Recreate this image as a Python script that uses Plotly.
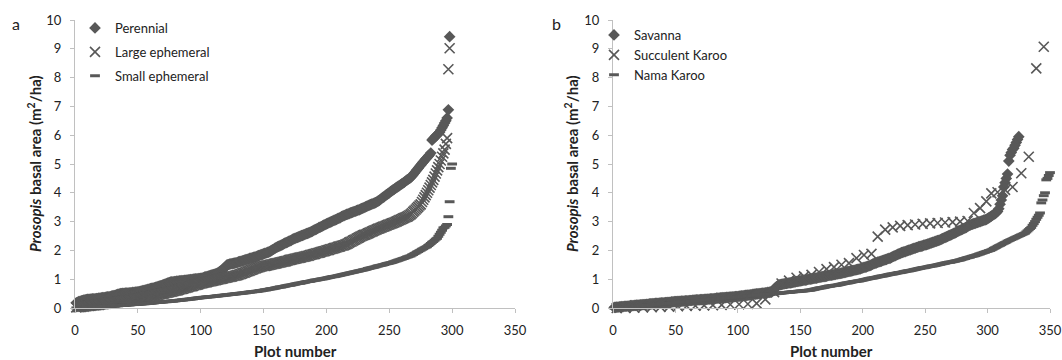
import plotly.graph_objects as go

# ---------------- Panel a: drainage type ----------------
perennial = [
    0.18,0.20,0.22,0.23,0.25,0.26,0.27,0.28,0.29,0.30,
    0.30,0.31,0.31,0.32,0.32,0.32,0.33,0.33,0.34,0.34,
    0.35,0.36,0.36,0.37,0.38,0.39,0.39,0.40,0.41,0.42,
    0.43,0.44,0.46,0.47,0.48,0.50,0.50,0.51,0.51,0.52,
    0.52,0.52,0.53,0.53,0.53,0.54,0.54,0.55,0.55,0.56,
    0.57,0.58,0.59,0.60,0.61,0.62,0.63,0.65,0.66,0.67,
    0.68,0.69,0.70,0.72,0.73,0.74,0.76,0.77,0.78,0.80,
    0.82,0.83,0.85,0.87,0.88,0.90,0.91,0.91,0.92,0.92,
    0.93,0.93,0.94,0.94,0.95,0.95,0.96,0.96,0.97,0.98,
    0.98,0.99,0.99,1.00,1.00,1.01,1.01,1.02,1.02,1.03,
    1.04,1.05,1.07,1.08,1.09,1.11,1.12,1.13,1.15,1.16,
    1.17,1.19,1.20,1.23,1.26,1.29,1.32,1.35,1.40,1.45,
    1.50,1.51,1.52,1.53,1.54,1.55,1.56,1.57,1.58,1.60,
    1.61,1.62,1.64,1.65,1.66,1.68,1.69,1.70,1.72,1.73,
    1.74,1.76,1.77,1.78,1.80,1.82,1.83,1.85,1.86,1.88,
    1.90,1.91,1.93,1.94,1.96,1.99,2.02,2.04,2.07,2.10,
    2.12,2.14,2.16,2.18,2.20,2.23,2.25,2.27,2.29,2.31,
    2.33,2.35,2.38,2.40,2.42,2.44,2.45,2.47,2.49,2.51,
    2.52,2.54,2.56,2.58,2.59,2.61,2.63,2.65,2.67,2.70,
    2.72,2.74,2.76,2.79,2.81,2.83,2.85,2.88,2.90,2.92,
    2.94,2.96,2.98,3.00,3.02,3.04,3.06,3.08,3.10,3.12,
    3.14,3.17,3.19,3.21,3.23,3.25,3.26,3.28,3.30,3.31,
    3.33,3.35,3.36,3.38,3.40,3.41,3.43,3.45,3.47,3.49,
    3.51,3.53,3.55,3.57,3.59,3.61,3.62,3.64,3.66,3.68,
    3.71,3.74,3.77,3.81,3.84,3.87,3.91,3.94,3.97,4.00,
    4.04,4.07,4.10,4.13,4.16,4.19,4.22,4.25,4.28,4.31,
    4.34,4.37,4.41,4.44,4.47,4.50,4.53,4.58,4.63,4.69,
    4.74,4.80,4.85,4.91,4.96,5.02,5.07,5.12,5.17,5.22,
    5.27,5.32,5.38,5.83,5.88,5.92,5.97,6.01,6.06,6.10,
    6.18,6.26,6.34,6.42,6.50,6.60,6.88,9.42,
]

large_ephemeral = [
    0.02,0.03,0.03,0.04,0.04,0.05,0.05,0.06,0.06,0.07,
    0.07,0.08,0.08,0.09,0.09,0.10,0.10,0.11,0.11,0.12,
    0.13,0.13,0.14,0.15,0.15,0.16,0.17,0.17,0.18,0.19,
    0.19,0.20,0.21,0.21,0.22,0.23,0.23,0.24,0.24,0.25,
    0.26,0.27,0.27,0.28,0.29,0.30,0.30,0.31,0.32,0.33,
    0.33,0.34,0.35,0.36,0.36,0.37,0.38,0.39,0.39,0.40,
    0.41,0.42,0.43,0.44,0.45,0.46,0.47,0.48,0.49,0.50,
    0.51,0.52,0.53,0.54,0.55,0.56,0.57,0.58,0.59,0.60,
    0.61,0.62,0.64,0.65,0.66,0.67,0.69,0.70,0.71,0.72,
    0.74,0.75,0.76,0.77,0.79,0.80,0.81,0.82,0.84,0.85,
    0.86,0.87,0.88,0.89,0.90,0.91,0.92,0.93,0.94,0.95,
    0.96,0.97,0.98,0.99,1.00,1.01,1.02,1.03,1.04,1.05,
    1.06,1.07,1.08,1.09,1.10,1.11,1.12,1.13,1.14,1.15,
    1.17,1.18,1.20,1.22,1.23,1.25,1.27,1.28,1.30,1.32,
    1.33,1.35,1.37,1.38,1.40,1.41,1.43,1.44,1.45,1.46,
    1.46,1.47,1.48,1.49,1.50,1.51,1.52,1.53,1.54,1.55,
    1.56,1.57,1.58,1.59,1.60,1.61,1.62,1.63,1.64,1.66,
    1.67,1.68,1.69,1.70,1.71,1.72,1.73,1.74,1.75,1.76,
    1.77,1.78,1.79,1.80,1.81,1.82,1.84,1.85,1.86,1.87,
    1.88,1.90,1.91,1.92,1.93,1.95,1.96,1.97,1.98,2.00,
    2.01,2.02,2.04,2.05,2.06,2.08,2.09,2.10,2.12,2.13,
    2.14,2.16,2.17,2.18,2.20,2.22,2.24,2.27,2.29,2.31,
    2.34,2.36,2.38,2.41,2.43,2.45,2.48,2.50,2.52,2.54,
    2.55,2.57,2.59,2.61,2.63,2.65,2.67,2.69,2.71,2.73,
    2.75,2.76,2.78,2.80,2.82,2.83,2.85,2.87,2.89,2.90,
    2.92,2.94,2.95,2.97,2.99,3.01,3.03,3.05,3.07,3.09,
    3.11,3.13,3.15,3.17,3.19,3.22,3.25,3.29,3.34,3.38,
    3.42,3.47,3.51,3.56,3.60,3.68,3.76,3.84,3.92,4.00,
    4.09,4.18,4.27,4.36,4.45,4.56,4.67,4.78,4.89,5.00,
    5.12,5.25,5.37,5.50,5.70,5.90,8.29,9.02,
]

small_ephemeral = [
    0.00,0.00,0.01,0.01,0.01,0.01,0.02,0.02,0.02,0.02,
    0.03,0.03,0.03,0.03,0.04,0.04,0.04,0.04,0.05,0.05,
    0.05,0.05,0.06,0.06,0.06,0.06,0.07,0.07,0.07,0.07,
    0.08,0.08,0.08,0.08,0.09,0.09,0.09,0.09,0.10,0.10,
    0.10,0.11,0.11,0.11,0.12,0.12,0.12,0.13,0.13,0.13,
    0.14,0.14,0.14,0.15,0.15,0.15,0.16,0.16,0.16,0.17,
    0.17,0.18,0.18,0.19,0.19,0.20,0.20,0.20,0.21,0.21,
    0.22,0.22,0.22,0.23,0.23,0.24,0.24,0.24,0.25,0.25,
    0.26,0.26,0.27,0.27,0.28,0.28,0.29,0.29,0.30,0.30,
    0.31,0.31,0.32,0.32,0.33,0.34,0.34,0.35,0.35,0.36,
    0.36,0.37,0.37,0.38,0.38,0.39,0.39,0.39,0.40,0.40,
    0.41,0.41,0.42,0.42,0.43,0.43,0.44,0.44,0.45,0.45,
    0.46,0.46,0.47,0.47,0.48,0.48,0.49,0.49,0.50,0.50,
    0.51,0.51,0.52,0.52,0.53,0.53,0.54,0.55,0.55,0.56,
    0.56,0.57,0.57,0.58,0.58,0.59,0.60,0.60,0.61,0.62,
    0.63,0.63,0.64,0.65,0.66,0.67,0.67,0.68,0.69,0.70,
    0.71,0.72,0.73,0.73,0.74,0.75,0.76,0.77,0.78,0.79,
    0.79,0.80,0.81,0.82,0.83,0.84,0.85,0.86,0.86,0.87,
    0.88,0.89,0.90,0.91,0.92,0.92,0.93,0.94,0.95,0.96,
    0.97,0.97,0.98,0.99,1.00,1.01,1.01,1.02,1.03,1.04,
    1.05,1.06,1.07,1.08,1.09,1.09,1.10,1.11,1.12,1.13,
    1.14,1.15,1.16,1.17,1.18,1.19,1.20,1.21,1.22,1.23,
    1.24,1.25,1.26,1.27,1.28,1.29,1.30,1.31,1.32,1.33,
    1.34,1.35,1.37,1.38,1.39,1.40,1.41,1.42,1.43,1.45,
    1.46,1.47,1.48,1.49,1.50,1.51,1.53,1.54,1.55,1.56,
    1.57,1.58,1.60,1.61,1.63,1.64,1.66,1.67,1.69,1.70,
    1.72,1.73,1.75,1.77,1.78,1.80,1.81,1.84,1.86,1.89,
    1.91,1.94,1.96,1.99,2.01,2.04,2.06,2.09,2.11,2.13,
    2.17,2.20,2.24,2.28,2.31,2.35,2.39,2.42,2.49,2.56,
    2.63,2.70,2.78,2.80,2.85,2.90,3.17,3.69,4.85,5.00,
]

# ---------------- Panel b: biome ----------------
savanna = [
    0.02,0.02,0.03,0.03,0.04,0.04,0.05,0.05,0.06,0.06,
    0.06,0.07,0.07,0.08,0.08,0.08,0.09,0.09,0.10,0.10,
    0.10,0.11,0.11,0.12,0.12,0.12,0.13,0.13,0.14,0.14,
    0.14,0.15,0.15,0.16,0.16,0.16,0.17,0.17,0.18,0.18,
    0.18,0.19,0.19,0.20,0.20,0.20,0.21,0.21,0.22,0.22,
    0.22,0.23,0.23,0.23,0.24,0.24,0.24,0.25,0.25,0.25,
    0.26,0.26,0.26,0.27,0.27,0.27,0.28,0.28,0.28,0.29,
    0.29,0.29,0.30,0.30,0.30,0.31,0.31,0.32,0.32,0.32,
    0.33,0.33,0.34,0.34,0.34,0.35,0.35,0.36,0.36,0.36,
    0.37,0.37,0.38,0.38,0.38,0.39,0.39,0.40,0.40,0.40,
    0.41,0.41,0.42,0.42,0.43,0.44,0.44,0.45,0.45,0.46,
    0.46,0.47,0.48,0.48,0.49,0.49,0.50,0.50,0.51,0.52,
    0.52,0.53,0.53,0.54,0.54,0.55,0.55,0.60,0.65,0.70,
    0.74,0.77,0.80,0.81,0.82,0.83,0.84,0.85,0.85,0.86,
    0.87,0.87,0.88,0.89,0.90,0.91,0.92,0.92,0.93,0.94,
    0.95,0.96,0.97,0.97,0.98,0.99,1.00,1.00,1.01,1.02,
    1.03,1.04,1.04,1.05,1.06,1.07,1.08,1.09,1.09,1.10,
    1.11,1.12,1.13,1.14,1.14,1.15,1.16,1.17,1.18,1.18,
    1.19,1.20,1.21,1.22,1.23,1.24,1.25,1.26,1.27,1.28,
    1.29,1.30,1.31,1.32,1.33,1.34,1.35,1.36,1.38,1.39,
    1.41,1.42,1.43,1.45,1.46,1.48,1.50,1.52,1.54,1.56,
    1.57,1.59,1.60,1.62,1.63,1.65,1.66,1.68,1.69,1.71,
    1.72,1.73,1.76,1.78,1.80,1.82,1.84,1.86,1.88,1.90,
    1.92,1.93,1.95,1.96,1.98,1.99,2.01,2.02,2.04,2.05,
    2.07,2.08,2.10,2.11,2.13,2.14,2.15,2.16,2.18,2.19,
    2.20,2.22,2.23,2.25,2.26,2.28,2.29,2.31,2.32,2.34,
    2.35,2.37,2.39,2.41,2.43,2.45,2.47,2.49,2.51,2.53,
    2.55,2.57,2.59,2.61,2.63,2.66,2.68,2.70,2.72,2.74,
    2.76,2.78,2.80,2.83,2.86,2.88,2.90,2.91,2.93,2.94,
    2.96,2.97,2.99,3.00,3.02,3.03,3.05,3.06,3.08,3.10,
    3.13,3.16,3.19,3.22,3.25,3.28,3.31,3.35,3.45,3.60,
    3.75,3.90,4.20,4.35,4.50,4.65,5.10,5.30,5.40,5.50,
    5.55,5.65,5.75,5.85,5.95,
]

nama_karoo = [
    0.00,0.00,0.01,0.01,0.01,0.02,0.02,0.02,0.03,0.03,
    0.03,0.04,0.04,0.04,0.05,0.05,0.05,0.06,0.06,0.06,
    0.07,0.07,0.07,0.08,0.08,0.08,0.09,0.09,0.10,0.10,
    0.10,0.11,0.11,0.12,0.12,0.12,0.13,0.13,0.14,0.14,
    0.14,0.15,0.15,0.16,0.16,0.16,0.17,0.17,0.18,0.18,
    0.18,0.19,0.19,0.20,0.20,0.20,0.21,0.21,0.22,0.22,
    0.22,0.23,0.23,0.24,0.24,0.24,0.25,0.25,0.26,0.26,
    0.26,0.27,0.27,0.28,0.28,0.28,0.29,0.29,0.30,0.30,
    0.30,0.31,0.31,0.32,0.32,0.32,0.33,0.33,0.34,0.34,
    0.34,0.35,0.35,0.36,0.36,0.36,0.37,0.37,0.38,0.38,
    0.38,0.39,0.39,0.40,0.40,0.40,0.41,0.41,0.42,0.42,
    0.42,0.43,0.43,0.44,0.44,0.44,0.45,0.45,0.46,0.46,
    0.46,0.47,0.47,0.48,0.48,0.48,0.49,0.49,0.50,0.50,
    0.50,0.51,0.51,0.52,0.52,0.53,0.53,0.54,0.54,0.54,
    0.55,0.55,0.56,0.56,0.57,0.57,0.57,0.58,0.58,0.59,
    0.59,0.59,0.60,0.60,0.61,0.61,0.62,0.62,0.63,0.64,
    0.65,0.66,0.67,0.68,0.69,0.70,0.70,0.71,0.72,0.73,
    0.74,0.75,0.76,0.76,0.77,0.78,0.78,0.79,0.79,0.80,
    0.81,0.82,0.83,0.84,0.85,0.86,0.87,0.87,0.88,0.89,
    0.90,0.91,0.92,0.92,0.93,0.94,0.94,0.95,0.96,0.97,
    0.98,0.99,1.00,1.01,1.02,1.03,1.04,1.04,1.05,1.06,
    1.07,1.08,1.09,1.10,1.11,1.11,1.12,1.13,1.14,1.15,
    1.16,1.17,1.18,1.18,1.19,1.20,1.21,1.22,1.23,1.23,
    1.24,1.25,1.26,1.27,1.28,1.29,1.29,1.30,1.31,1.32,
    1.33,1.34,1.35,1.36,1.37,1.38,1.39,1.40,1.40,1.41,
    1.42,1.43,1.44,1.45,1.46,1.46,1.47,1.48,1.49,1.50,
    1.51,1.52,1.53,1.54,1.55,1.56,1.57,1.58,1.59,1.59,
    1.60,1.61,1.62,1.63,1.64,1.65,1.66,1.67,1.68,1.70,
    1.71,1.72,1.74,1.75,1.76,1.77,1.79,1.80,1.81,1.82,
    1.84,1.85,1.87,1.88,1.90,1.91,1.93,1.94,1.96,1.97,
    1.99,2.00,2.02,2.04,2.07,2.09,2.11,2.14,2.16,2.18,
    2.20,2.23,2.25,2.27,2.29,2.32,2.34,2.36,2.38,2.40,
    2.42,2.44,2.46,2.48,2.50,2.52,2.54,2.56,2.58,2.60,
    2.64,2.68,2.72,2.76,2.80,2.87,2.93,3.00,3.08,3.15,
    3.22,3.30,3.65,3.75,3.90,4.00,4.45,4.50,4.60,4.70,
]

succulent_karoo_plot = [
    3, 10, 17, 24, 31, 38, 45, 52, 59, 66, 73, 80, 87, 94, 101, 108, 115, 122, 129,
    135, 141, 147, 153, 159, 165, 171, 177, 183, 189, 195, 201, 207,
    212, 218, 224, 230, 236, 242, 248, 254, 260, 266, 272, 278, 284,
    289, 294, 299, 303, 308, 314, 320, 327, 333, 339, 345,
]
succulent_karoo = [
    0.00, 0.00, 0.01, 0.02, 0.03, 0.04, 0.05, 0.06, 0.07, 0.08, 0.09, 0.10, 0.11, 0.12,
    0.13, 0.14, 0.16, 0.30, 0.55,
    0.85, 0.95, 1.05, 1.10, 1.15, 1.25, 1.35, 1.42, 1.50, 1.56, 1.73, 1.84, 1.88,
    2.48, 2.72, 2.80, 2.85, 2.88, 2.90, 2.92, 2.94, 2.95, 2.97, 2.98, 3.00, 3.02,
    3.30, 3.47, 3.70, 3.98, 4.02, 4.10, 4.20, 4.68, 5.25, 8.32, 9.07,
]

x_ticks = [0, 50, 100, 150, 200, 250, 300, 350]
y_ticks = [0, 1, 2, 3, 4, 5, 6, 7, 8, 9, 10]

W, H = 1062, 360
MARK = "#585858"
AX = "#c0c0c0"
FONT = "Lato"


def ranks(vals):
    return list(range(1, len(vals) + 1))


diamond = dict(symbol="diamond", size=9, color=MARK, line=dict(width=0))
cross = dict(symbol="x-thin", size=10, color=MARK, line=dict(width=1.6, color=MARK))
dash = dict(symbol="line-ew", size=7, color=MARK, line=dict(width=3, color=MARK))

fig = go.Figure()
fig.add_trace(go.Scatter(x=ranks(perennial), y=perennial, mode="markers", name="Perennial",
                         marker=diamond, xaxis="x", yaxis="y", legend="legend",
                         legendgroup="p", cliponaxis=False))
fig.add_trace(go.Scatter(x=ranks(large_ephemeral), y=large_ephemeral, mode="markers",
                         name="Large ephemeral", marker=cross, xaxis="x", yaxis="y",
                         legend="legend", legendgroup="l", cliponaxis=False))
fig.add_trace(go.Scatter(x=ranks(small_ephemeral), y=small_ephemeral, mode="markers",
                         name="Small ephemeral", marker=dash, xaxis="x", yaxis="y",
                         legend="legend", legendgroup="s", cliponaxis=False))

fig.add_trace(go.Scatter(x=ranks(savanna), y=savanna, mode="markers", name="Savanna",
                         marker=diamond, xaxis="x2", yaxis="y2", legend="legend2",
                         legendgroup="sv", cliponaxis=False))
fig.add_trace(go.Scatter(x=succulent_karoo_plot, y=succulent_karoo, mode="markers",
                         name="Succulent Karoo", marker=cross, xaxis="x2", yaxis="y2",
                         legend="legend2", legendgroup="sk", cliponaxis=False))
fig.add_trace(go.Scatter(x=ranks(nama_karoo), y=nama_karoo, mode="markers", name="Nama Karoo",
                         marker=dash, xaxis="x2", yaxis="y2", legend="legend2",
                         legendgroup="nk", cliponaxis=False))

ydom = [1 - 308 / H, 1 - 20 / H]
common_x = dict(range=[0, 350], tickvals=x_ticks, ticks="outside", ticklen=4, tickcolor=AX,
                showline=True, linecolor=AX, linewidth=1, showgrid=False, zeroline=False,
                automargin=False,
                tickfont=dict(family=FONT, size=13, color="#222"), ticklabelstandoff=6)
common_y = dict(range=[0, 10], tickvals=y_ticks, ticks="outside", ticklen=4, tickcolor=AX,
                showline=True, linecolor=AX, linewidth=1, showgrid=False, zeroline=False,
                automargin=False,
                tickfont=dict(family=FONT, size=13, color="#222"), ticklabelstandoff=6,
                domain=ydom)

leg_common = dict(font=dict(family=FONT, size=13, color="#222"), bgcolor="rgba(0,0,0,0)",
                  traceorder="grouped", itemwidth=30, xanchor="left", yanchor="top")

ytitle = "<b><i>Prosopis</i> basal area (m<sup>2</sup>/ha)</b>"


def note(text, px, py, size=15, angle=0):
    return dict(text=text, x=px / W, y=1 - py / H, xref="paper", yref="paper",
                xanchor="center", yanchor="middle", showarrow=False, textangle=angle,
                font=dict(family=FONT, size=size, color="#222"))


fig.update_layout(
    template="none",
    width=W, height=H, margin=dict(l=0, r=0, t=0, b=0, autoexpand=False),
    paper_bgcolor="white", plot_bgcolor="white", showlegend=True,
    xaxis=dict(domain=[75 / W, 515 / W], anchor="y", **common_x),
    yaxis=dict(anchor="x", **common_y),
    xaxis2=dict(domain=[613 / W, 1050 / W], anchor="y2", **common_x),
    yaxis2=dict(anchor="x2", **common_y),
    legend=dict(x=(115 - 40) / W, y=1 - 13 / H, tracegroupgap=4, **leg_common),
    legend2=dict(x=(634 - 40) / W, y=1 - 20 / H, tracegroupgap=0, **leg_common),
    annotations=[
        note("a", 16, 23, size=16),
        note("b", 556, 23, size=16),
        note(ytitle, 35, 164, angle=-90),
        note(ytitle, 572, 164, angle=-90),
        note("<b>Plot number</b>", 295, 351),
        note("<b>Plot number</b>", 831, 351),
    ],
)

fig.write_html(
    "out.html",
    config={"displayModeBar": False},
    post_script="document.body.style.margin='0px';document.body.style.overflow='hidden';",
)
